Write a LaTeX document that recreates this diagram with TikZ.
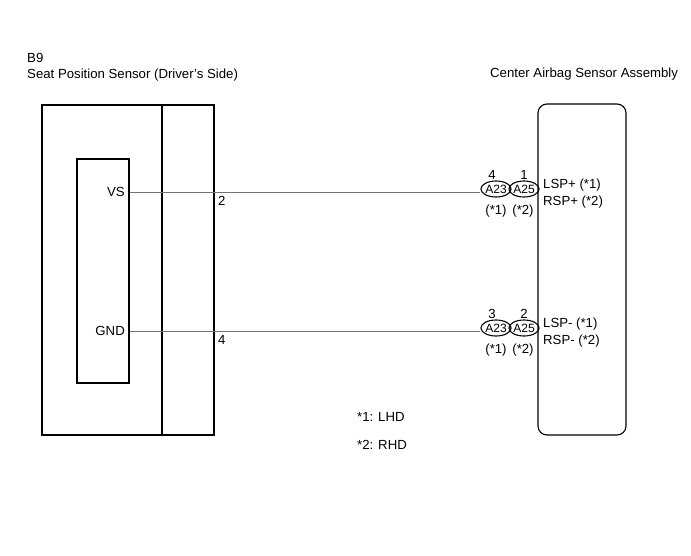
\documentclass[tikz,border=0pt]{standalone}
\usepackage{fontspec}
\setmainfont{Liberation Sans}
\usetikzlibrary{shapes.geometric}
\begin{document}
\begin{tikzpicture}[x=1pt,y=-1pt,
  txt/.style={inner sep=0pt,font=\fontsize{13.2}{15}\selectfont},
  boxline/.style={draw=black,line width=1.1pt},
  wire/.style={draw=black!55,line width=0.7pt},
  conn/.style={ellipse,draw=black,line width=1.1pt,inner sep=0pt,minimum height=16pt,font=\fontsize{12}{14}\selectfont}]
\useasboundingbox (0,0) rectangle (691,555);
% titles
\node[txt,anchor=west] (b9) at (27,58) {B9};
\node[txt,anchor=west] (seat) at (27,75) {Seat Position Sensor (Driver’s Side)};
\node[txt,anchor=west] (cas) at (490,74) {Center Airbag Sensor Assembly};
% left component
\node[boxline,rectangle,minimum width=172pt,minimum height=330pt,inner sep=0pt] (outer) at (128,270) {};
\coordinate (divT) at (162,105);
\coordinate (divB) at (162,435);
\draw[boxline] (divT) -- (divB);
\node[boxline,rectangle,minimum width=52pt,minimum height=224pt,inner sep=0pt] (inner) at (103,271) {};
\node[txt,anchor=east] (vs) at (125,192) {VS};
\node[txt,anchor=east] (gnd) at (125,331) {GND};
\node[txt,anchor=west] (p2) at (218,201) {2};
\node[txt,anchor=west] (p4) at (218,340) {4};
% right component
\node[boxline,rectangle,rounded corners=9pt,minimum width=88pt,minimum height=331pt,inner sep=0pt] (ecu) at (582,269.5) {};
% connectors top
\node[conn,minimum width=30pt] (a23t) at (496,189) {A23};
\node[conn,minimum width=28pt] (a25t) at (524,189) {A25};
\node[txt] (n4) at (492,175) {4};
\node[txt] (n1) at (524,175) {1};
\node[txt] (s1t) at (496,211) {(*1)};
\node[txt] (s2t) at (523,211) {(*2)};
\node[txt,anchor=west] (lspp) at (543,185) {LSP+ (*1)};
\node[txt,anchor=west] (rspp) at (543,202) {RSP+ (*2)};
% connectors bottom
\node[conn,minimum width=30pt] (a23b) at (496,328) {A23};
\node[conn,minimum width=28pt] (a25b) at (524,328) {A25};
\node[txt] (n3) at (492,314) {3};
\node[txt] (n2) at (524,314) {2};
\node[txt] (s1b) at (496,350) {(*1)};
\node[txt] (s2b) at (523,350) {(*2)};
\node[txt,anchor=west] (lspm) at (543,324) {LSP- (*1)};
\node[txt,anchor=west] (rspm) at (543,341) {RSP- (*2)};
% wires
\draw[wire] (inner.east |- 0,192) -- (a23t.west |- 0,192);
\draw[wire] (inner.east |- 0,331) -- (a23b.west |- 0,331);
% notes
\node[txt,anchor=west] (lhd) at (357,417) {*1: LHD};
\node[txt,anchor=west] (rhd) at (357,445) {*2: RHD};
\end{tikzpicture}
\end{document}
